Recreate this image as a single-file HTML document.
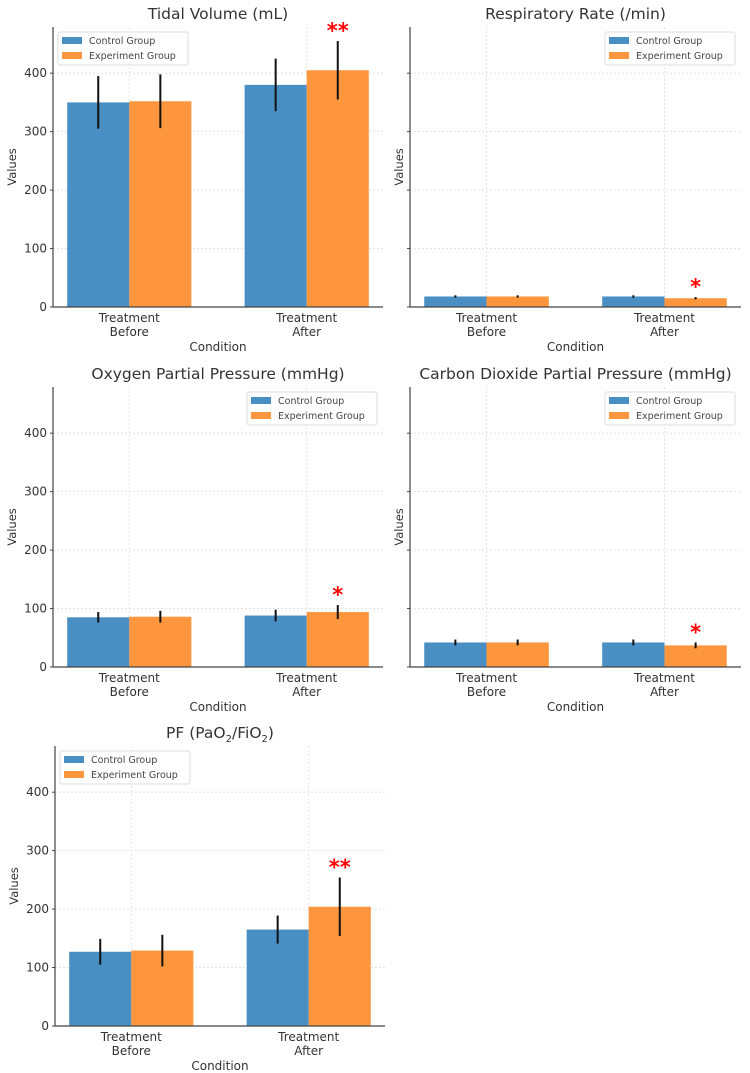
<!DOCTYPE html>
<html><head><meta charset="utf-8"><style>
body{margin:0;background:#fff;width:750px;height:1073px;overflow:hidden}
svg{display:block;font-family:"DejaVu Sans","Liberation Sans",sans-serif}
</style></head><body>
<svg id="fig" width="750" height="1073" viewBox="0 0 750 1073"></svg>
<script>
const categories = ["Treatment\nBefore","Treatment\nAfter"];
const yTicks = [0,100,200,300,400];
const tvControl=[350,380], tvControlErr=[45,45], tvExp=[352,405], tvExpErr=[46,50], tvSig=["","**"];
const rrControl=[18,18], rrControlErr=[2,2], rrExp=[18,15], rrExpErr=[2,2], rrSig=["","*"];
const opControl=[85,88], opControlErr=[9,10], opExp=[86,94], opExpErr=[10,12], opSig=["","*"];
const cpControl=[42,42], cpControlErr=[5,5], cpExp=[42,37], cpExpErr=[5,5], cpSig=["","*"];
const pfControl=[127,165], pfControlErr=[22,24], pfExp=[129,204], pfExpErr=[27,50], pfSig=["","**"];
const yMax = 479;

const NS="http://www.w3.org/2000/svg";
const fig=document.getElementById('fig');
function mk(tag,attrs,parent,text){const e=document.createElementNS(NS,tag);for(const k in attrs)e.setAttribute(k,attrs[k]);if(text!==undefined)e.textContent=text;(parent||fig).appendChild(e);return e;}

function panel(name,title,L,T,R,B,ctrl,ctrlE,exp,expE,sig,showTicks,legendRight,subTitle){
  const g=mk('g',{});
  
  
  const y=v=>B-(v/yMax)*(B-T);
  const n=categories.length;
  const xMin=-0.43, xMax=(n-1)+0.43;
  const unit=(R-L)/(xMax-xMin);
  const cx=i=>L+(i-xMin)*unit;
  const bw=0.35*unit;
  yTicks.forEach(t=>{if(t>0){const l=mk('line',{x1:L,x2:R,y1:y(t),y2:y(t),stroke:'#ddd','stroke-width':0.8,'stroke-dasharray':'2,2'},g);}});
  categories.forEach((c,i)=>{const l=mk('line',{x1:cx(i),x2:cx(i),y1:T,y2:B,stroke:'#ddd','stroke-width':0.8,'stroke-dasharray':'2,2'},g);});
  categories.forEach((c,i)=>{
    const b1=mk('rect',{x:cx(i)-bw,y:y(ctrl[i]),width:bw,height:B-y(ctrl[i]),fill:'#4a8fc4'},g);
    
    const b2=mk('rect',{x:cx(i),y:y(exp[i]),width:bw,height:B-y(exp[i]),fill:'#fd963c'},g);
    
    const e1=mk('line',{x1:cx(i)-bw/2,x2:cx(i)-bw/2,y1:y(ctrl[i]-ctrlE[i]),y2:y(ctrl[i]+ctrlE[i]),stroke:'#111','stroke-width':2},g);
    
    const e2=mk('line',{x1:cx(i)+bw/2,x2:cx(i)+bw/2,y1:y(exp[i]-expE[i]),y2:y(exp[i]+expE[i]),stroke:'#111','stroke-width':2},g);
    
    if(sig[i]){const s=mk('text',{x:cx(i)+bw/2,y:y(exp[i]+expE[i])-3,fill:'#f00','font-size':21,'font-weight':'bold','text-anchor':'middle'},g,sig[i]);
      }
    const lines=c.split('\n');
    lines.forEach((ln,k)=>{const t=mk('text',{x:cx(i),y:B+15+k*14,'font-size':12,fill:'#333','text-anchor':'middle'},g,ln);
      });
  });
  const sp=mk('path',{d:`M${L},${T} V${B} H${R}`,fill:'none',stroke:'#444','stroke-width':1.2},g);
  
  yTicks.forEach(t=>{mk('line',{x1:L-3,x2:L,y1:y(t),y2:y(t),stroke:'#444'},g);
    if(showTicks){const tl=mk('text',{x:L-6,y:y(t)+4,'font-size':12,fill:'#333','text-anchor':'end'},g,t);
      }});
  const yl=mk('text',{x:0,y:0,transform:`translate(${L-(showTicks?37:7)},${(T+B)/2}) rotate(-90)`,'font-size':11.5,fill:'#333','text-anchor':'middle'},g,'Values');
  
  const xl=mk('text',{x:(L+R)/2,y:B+44,'font-size':12,fill:'#333','text-anchor':'middle'},g,'Condition');
  
  let tt;
  if(subTitle){
    tt=mk('text',{x:(L+R)/2,y:T-8,'font-size':15.5,fill:'#333','text-anchor':'middle'},g);
    tt.innerHTML='PF (PaO<tspan font-size="10" dy="4">2</tspan><tspan dy="-4">/FiO</tspan><tspan font-size="10" dy="4">2</tspan><tspan dy="-4">)</tspan>';
  } else tt=mk('text',{x:(L+R)/2,y:T-8,'font-size':15.5,fill:'#333','text-anchor':'middle'},g,title);
  
  const lw=130,lh=33;
  const lx=legendRight?R-lw-6:L+5, ly=T+5;
  const lg=mk('g',{},g);
  
  mk('rect',{x:lx,y:ly,width:lw,height:lh,fill:'#fff','fill-opacity':0.85,stroke:'#ddd',rx:2},lg);
  [['Control Group','#4a8fc4'],['Experiment Group','#fd963c']].forEach((d,k)=>{
    const en=mk('g',{},lg);
    mk('rect',{x:lx+4,y:ly+5+k*15,width:20,height:7,fill:d[1]},en);
    mk('text',{x:lx+31,y:ly+12+k*15,'font-size':9.5,fill:'#444'},en,d[0]);
  });
}
panel('tidal-volume','Tidal Volume (mL)',53,27,383,307,tvControl,tvControlErr,tvExp,tvExpErr,tvSig,true,false);
panel('respiratory-rate','Respiratory Rate (/min)',410,27,741,307,rrControl,rrControlErr,rrExp,rrExpErr,rrSig,false,true);
panel('oxygen-pressure','Oxygen Partial Pressure (mmHg)',53,387,383,667,opControl,opControlErr,opExp,opExpErr,opSig,true,true);
panel('co2-pressure','Carbon Dioxide Partial Pressure (mmHg)',410,387,741,667,cpControl,cpControlErr,cpExp,cpExpErr,cpSig,false,true);
panel('pf-ratio','',55,746,385,1026,pfControl,pfControlErr,pfExp,pfExpErr,pfSig,true,false,true);
</script>
</body></html>
